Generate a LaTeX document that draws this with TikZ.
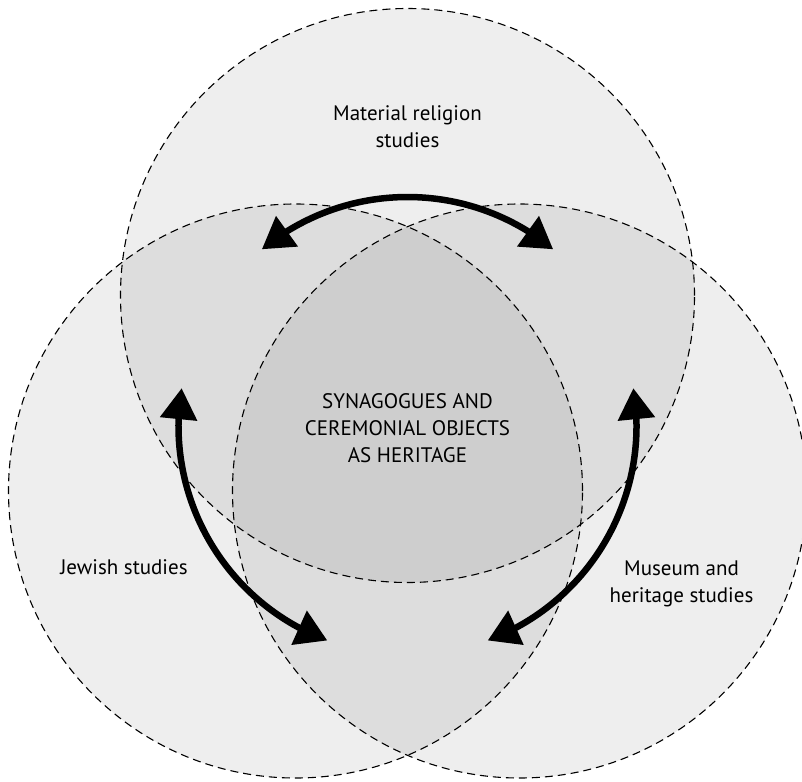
\documentclass[tikz,border=0pt]{standalone}
\usepackage{fontspec}
\setmainfont{PT Sans}
\usetikzlibrary{arrows.meta,bending}
\definecolor{cone}{gray}{0.933}
\definecolor{ctwo}{gray}{0.867}
\definecolor{cthree}{gray}{0.808}
\tikzset{
  outline/.style={draw=black, line width=1.1pt, dash pattern=on 8pt off 5pt},
  twoway/.style={line width=6.5pt, {Triangle[length=31pt,width=36pt]}-{Triangle[length=31pt,width=36pt]}},
  lbl/.style={align=center, inner sep=0pt, font=\fontsize{21}{27}\selectfont}
}
\begin{document}
\begin{tikzpicture}[x=1pt,y=1pt]
\useasboundingbox (0,0) rectangle (802,-781);
\coordinate (T) at (407.5,-295.5);
\coordinate (L) at (295.5,-491);
\coordinate (R) at (519.5,-491);
\coordinate (O) at (407.5,-426);
% fills
\fill[cone] (T) circle[radius=287] (L) circle[radius=287] (R) circle[radius=287];
\begin{scope}
  \clip (T) circle[radius=287];
  \fill[ctwo] (L) circle[radius=287] (R) circle[radius=287];
\end{scope}
\begin{scope}
  \clip (L) circle[radius=287];
  \fill[ctwo] (R) circle[radius=287];
\end{scope}
\begin{scope}
  \clip (T) circle[radius=287];
  \clip (L) circle[radius=287];
  \fill[cthree] (R) circle[radius=287];
\end{scope}
% outlines
\draw[outline] (T) circle[radius=287];
\draw[outline] (L) circle[radius=287];
\draw[outline] (R) circle[radius=287];
% arrows
\path (O) ++(129.5:229) coordinate (ta);
\path (O) ++(170.5:229) coordinate (la);
\path (O) ++(9.5:229) coordinate (ra);
\draw[twoway] (ta) arc[start angle=129.5, end angle=50.5, radius=229];
\draw[twoway] (la) arc[start angle=170.5, end angle=249.5, radius=229];
\draw[twoway] (ra) arc[start angle=9.5, end angle=-69.5, radius=229];
% labels
\node[lbl] (mat) at (407.5,-127) {Material religion\\studies};
\node[lbl] (syn) at (407.5,-428) {SYNAGOGUES AND\\CEREMONIAL OBJECTS\\AS HERITAGE};
\node[lbl] (jew) at (124,-567) {Jewish studies};
\node[lbl] (mus) at (681.5,-584) {Museum and\\heritage studies};
\end{tikzpicture}
\end{document}
